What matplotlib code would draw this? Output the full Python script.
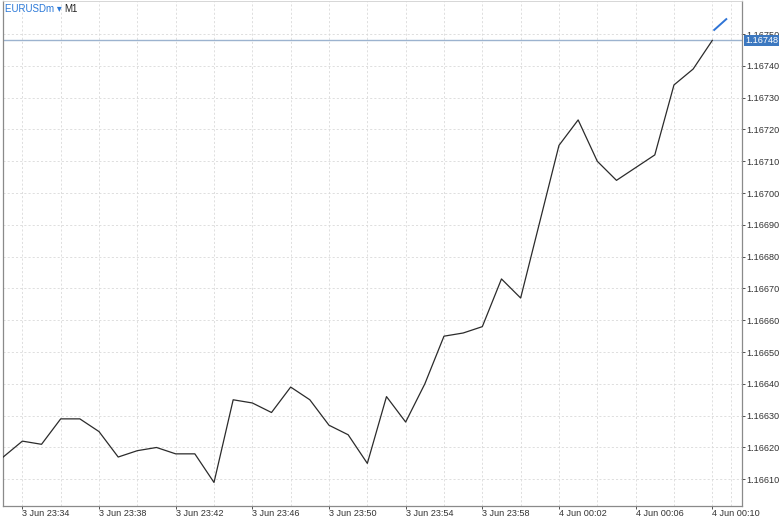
import matplotlib
matplotlib.use("Agg")
import matplotlib.pyplot as plt
from matplotlib.ticker import FixedLocator, NullFormatter

# ---- data ----
times = ["23:33", "23:34", "23:35", "23:36", "23:37", "23:38", "23:39", "23:40",
         "23:41", "23:42", "23:43", "23:44", "23:45", "23:46", "23:47", "23:48",
         "23:49", "23:50", "23:51", "23:52", "23:53", "23:54", "23:55", "23:56",
         "23:57", "23:58", "23:59", "00:00", "00:01", "00:02", "00:03", "00:04",
         "00:05", "00:06", "00:07", "00:08", "00:09", "00:10"]
close = [1.16617, 1.16622, 1.16621, 1.16629, 1.16629, 1.16625, 1.16617, 1.16619,
         1.16620, 1.16618, 1.16618, 1.16609, 1.16635, 1.16634, 1.16631, 1.16639,
         1.16635, 1.16627, 1.16624, 1.16615, 1.16636, 1.16628, 1.16640, 1.16655,
         1.16656, 1.16658, 1.16673, 1.16667, 1.16691, 1.16715, 1.16723, 1.16710,
         1.16704, 1.16708, 1.16712, 1.16734, 1.16739, 1.16748]
x_tick_labels = ["3 Jun 23:34", "3 Jun 23:38", "3 Jun 23:42", "3 Jun 23:46",
                 "3 Jun 23:50", "3 Jun 23:54", "3 Jun 23:58", "4 Jun 00:02",
                 "4 Jun 00:06", "4 Jun 00:10"]
x_tick_times = ["23:34", "23:38", "23:42", "23:46", "23:50", "23:54", "23:58",
                "00:02", "00:06", "00:10"]
y_ticks = [1.16610, 1.16620, 1.16630, 1.16640, 1.16650, 1.16660, 1.16670,
           1.16680, 1.16690, 1.16700, 1.16710, 1.16720, 1.16730, 1.16740, 1.16750]
current_price = 1.16748
trend_seg_x = [37.1, 37.73]
trend_seg_y = [1.167513, 1.167547]
symbol = "EURUSDm"
timeframe = "M1"

xs = list(range(len(times)))
pos = {t: i for i, t in enumerate(times)}

plt.rcParams['font.family'] = ['Liberation Sans', 'DejaVu Sans']

fig = plt.figure(figsize=(7.82, 5.19), dpi=100)
ax = fig.add_axes([3 / 782, 13 / 519, 739 / 782, 505 / 519])

ax.plot(xs, close, color="#2b2b2b", lw=0.9, zorder=3)
ax.plot(trend_seg_x, trend_seg_y, color="#2f74d6", lw=1.4, zorder=4)
ax.axhline(current_price, color="#9cb3cf", lw=1.0, zorder=2)

ax.set_xlim(-0.01, 38.55)
ax.set_ylim(1.166016, 1.167604)

major = [pos[t] for t in x_tick_times]
minor = [i for i in xs if (i % 2 == 1)] + [38]
ax.xaxis.set_major_locator(FixedLocator(major))
ax.set_xticklabels(x_tick_labels)
ax.xaxis.set_minor_locator(FixedLocator(minor))
ax.xaxis.set_minor_formatter(NullFormatter())
for lab in ax.get_xticklabels():
    lab.set_ha("left")

ax.set_yticks(y_ticks)
ax.set_yticklabels([f"{v:.5f}" for v in y_ticks])
ax.yaxis.tick_right()

ax.tick_params(axis="x", which="major", length=2, pad=0.5, labelsize=6.6,
               colors="#333333", width=0.6)
ax.tick_params(axis="x", which="minor", length=0)
ax.tick_params(axis="y", length=2, pad=1, labelsize=6.6, colors="#333333", width=0.6)
for lab in ax.get_yticklabels():
    lab.set_ha("left")

ax.grid(True, which="both", axis="x", color="#d9d9d9", lw=0.6, ls=(0, (2.5, 2.5)))
ax.grid(True, which="major", axis="y", color="#d9d9d9", lw=0.6, ls=(0, (2.5, 2.5)))
ax.set_axisbelow(True)

for s in ["left", "bottom", "right"]:
    ax.spines[s].set_color("#8a8a8a")
    ax.spines[s].set_linewidth(0.9)
ax.spines["top"].set_color("#d0d0d0")
ax.spines["top"].set_linewidth(0.6)

# current price label box
ax.annotate(f"{current_price:.5f}", xy=(1.0, current_price),
            xycoords=("axes fraction", "data"), xytext=(2.2, -0.3),
            textcoords="offset points", ha="left", va="center",
            fontsize=6.6, color="white",
            bbox=dict(boxstyle="square,pad=0.12", fc="#3c78c0", ec="none"),
            annotation_clip=False, zorder=5)

# title
t1 = fig.text(5 / 782, 1 - 9 / 519, f"{symbol} \u25be ", color="#2a78d8",
              fontsize=7, va="center", ha="left")
fig.canvas.draw()
bb = t1.get_window_extent()
fig.text(bb.x1 / fig.bbox.width, 1 - 9 / 519, timeframe, color="#222222",
         fontsize=7, va="center", ha="left")

fig.savefig("out.png", dpi=100)
